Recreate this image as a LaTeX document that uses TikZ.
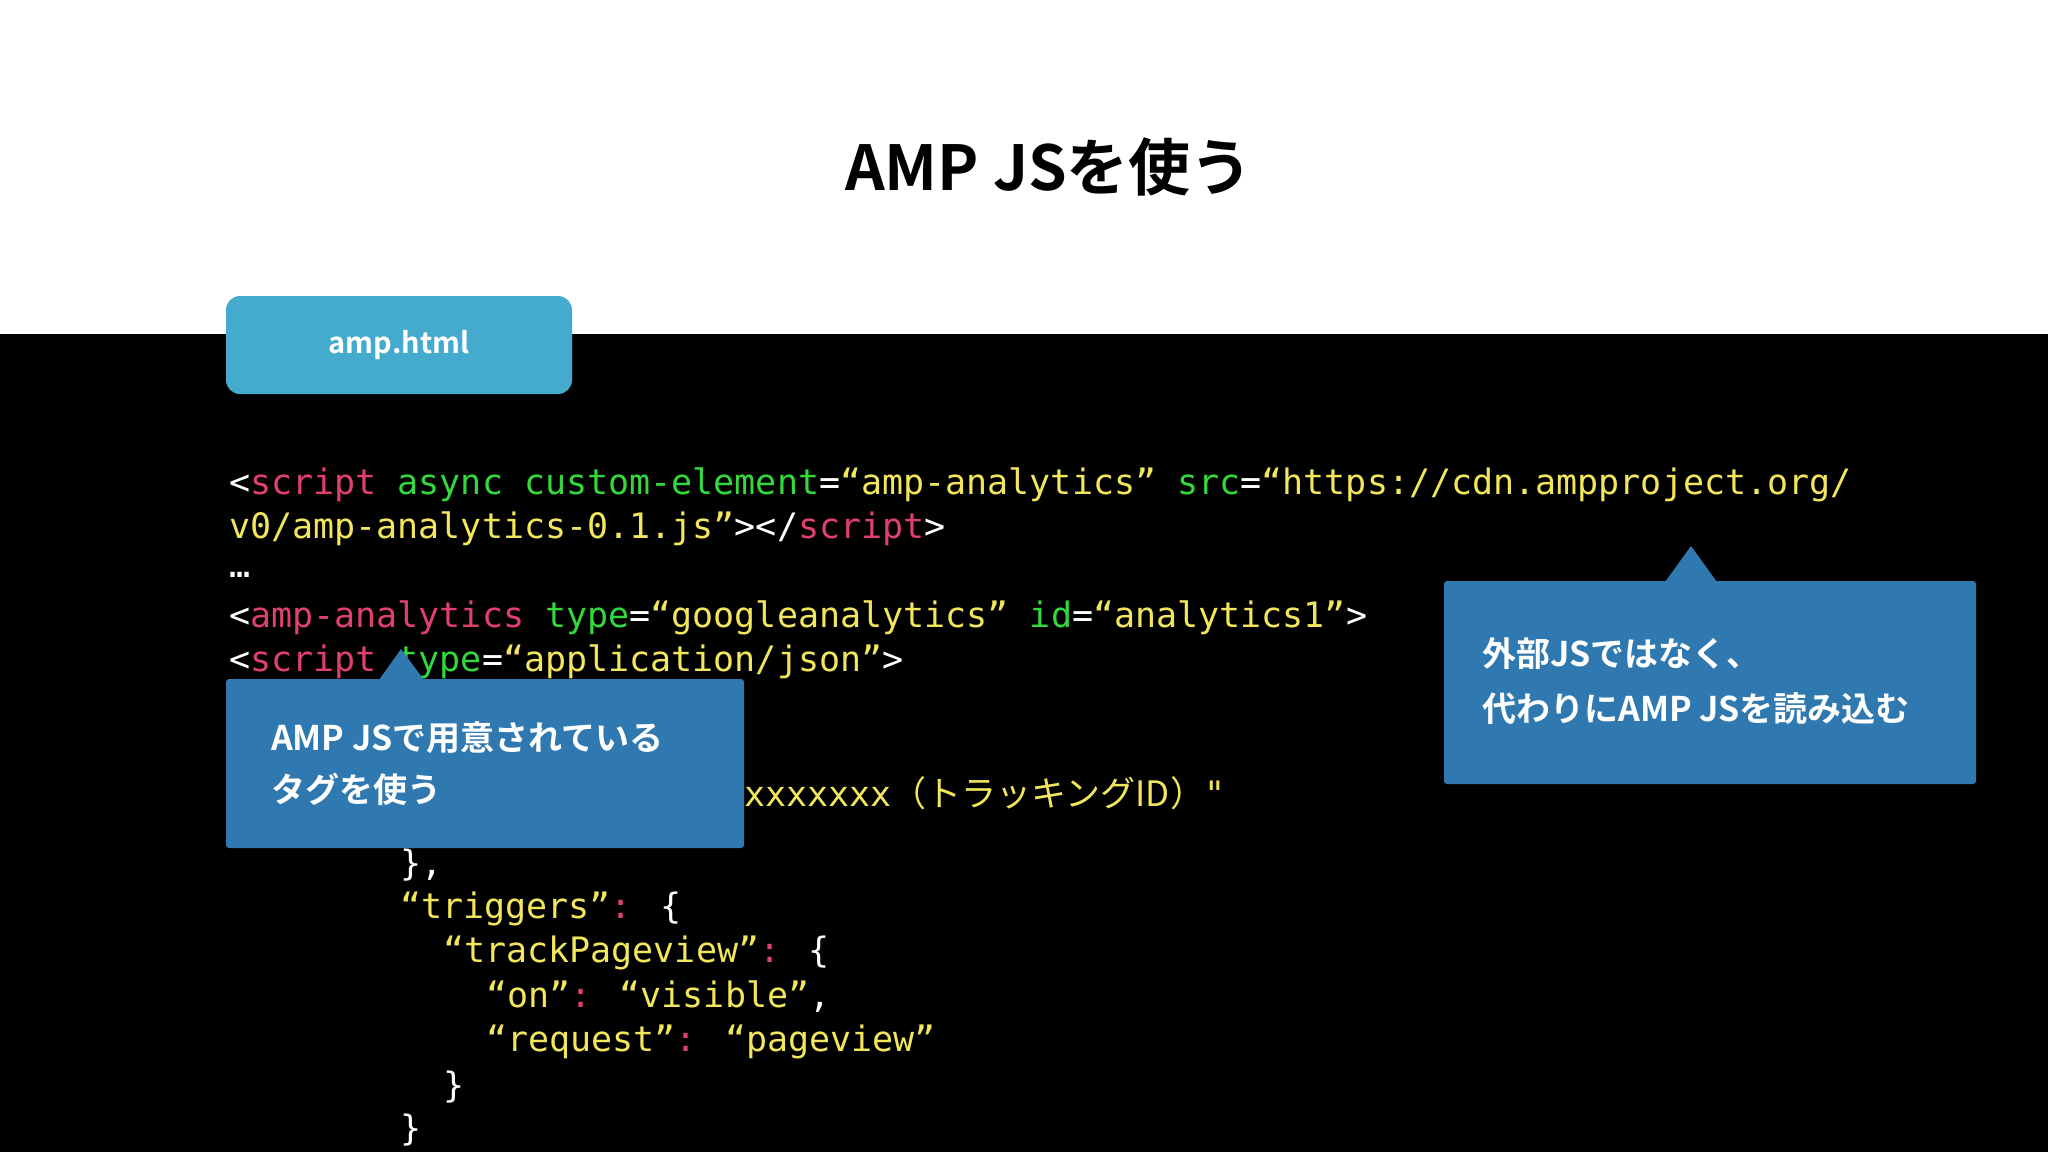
\documentclass[tikz,border=0pt]{standalone}
\usepackage{fontspec}
\setmainfont{Noto Sans CJK JP}
\newfontfamily\cjkb{Noto Sans CJK JP Bold}
\newfontfamily\cjk{Noto Sans CJK JP}
\newfontfamily\mono{DejaVu Sans Mono}
\definecolor{cpink}{HTML}{E0406E}
\definecolor{cgreen}{HTML}{33D93C}
\definecolor{cyel}{HTML}{F2E65C}
\definecolor{tabblue}{HTML}{45ABCE}
\definecolor{callblue}{HTML}{2F79B0}
\newcommand{\cp}[1]{\textcolor{cpink}{#1}}
\newcommand{\cg}[1]{\textcolor{cgreen}{#1}}
\newcommand{\cy}[1]{\textcolor{cyel}{#1}}
\begin{document}
\begin{tikzpicture}[x=1pt,y=-1pt,
  code/.style={anchor=base west,inner sep=0pt,text=white,font=\mono\fontsize{35}{35}\selectfont},
  calltext/.style={anchor=base west,inner sep=0pt,text=white,font=\cjkb\fontsize{34}{34}\selectfont}]
\useasboundingbox (0,0) rectangle (2048,1152);
\fill[white] (0,0) rectangle (2048,334);
\fill[black] (0,334) rectangle (2048,1152);
\node[font=\cjkb\fontsize{62}{62}\selectfont,anchor=base] (title) at (1049,190) {AMP JSを使う};
\fill[tabblue,rounded corners=14pt] (226,296) rectangle (572,394);
\node[font=\cjkb\fontsize{29}{29}\selectfont,text=white] (tab) at (399,345) {amp.html};
\node[code] (l1) at (229,494) {<\cp{script} \cg{async custom-element}=\cy{“amp-analytics”} \cg{src}=\cy{“https://cdn.ampproject.org/}};
\node[code] (l2) at (229,538) {\cy{v0/amp-analytics-0.1.js”}></\cp{script}>};
\node[code] (l3) at (229,577) {…};
\node[code] (l4) at (229,627) {<\cp{amp-analytics} \cg{type}=\cy{“googleanalytics”} \cg{id}=\cy{“analytics1”}>};
\node[code] (l5) at (229,671) {<\cp{script} \cg{type}=\cy{“application/json”}>};
\node[code] (l8) at (744,806) {\cy{xxxxxxx{\cjk（トラッキングID）}"}};
\node[code] (l9) at (400,875) {\},};
\node[code] (l10) at (400,918) {\cy{“triggers”}\cp{:} \{};
\node[code] (l11) at (443,962) {\cy{“trackPageview”}\cp{:} \{};
\node[code] (l12) at (486,1007) {\cy{“on”}\cp{:} \cy{“visible”},};
\node[code] (l13) at (486,1051) {\cy{“request”}\cp{:} \cy{“pageview”}};
\node[code] (l14) at (443,1097) {\}};
\node[code] (l15) at (400,1140) {\}};
% left callout
\fill[callblue,rounded corners=3pt] (226,679) rectangle (744,848);
\fill[callblue] (379,680) -- (401,649) -- (424,680) -- cycle;
\node[calltext] (c1a) at (271,750) {AMP JSで用意されている};
\node[calltext] (c1b) at (271,802) {タグを使う};
% right callout
\fill[callblue,rounded corners=3pt] (1444,581) rectangle (1976,784);
\fill[callblue] (1665,582) -- (1691,546) -- (1717,582) -- cycle;
\node[calltext] (c2a) at (1482,666) {外部JSではなく、};
\node[calltext] (c2b) at (1482,721) {代わりにAMP JSを読み込む};
\end{tikzpicture}
\end{document}
